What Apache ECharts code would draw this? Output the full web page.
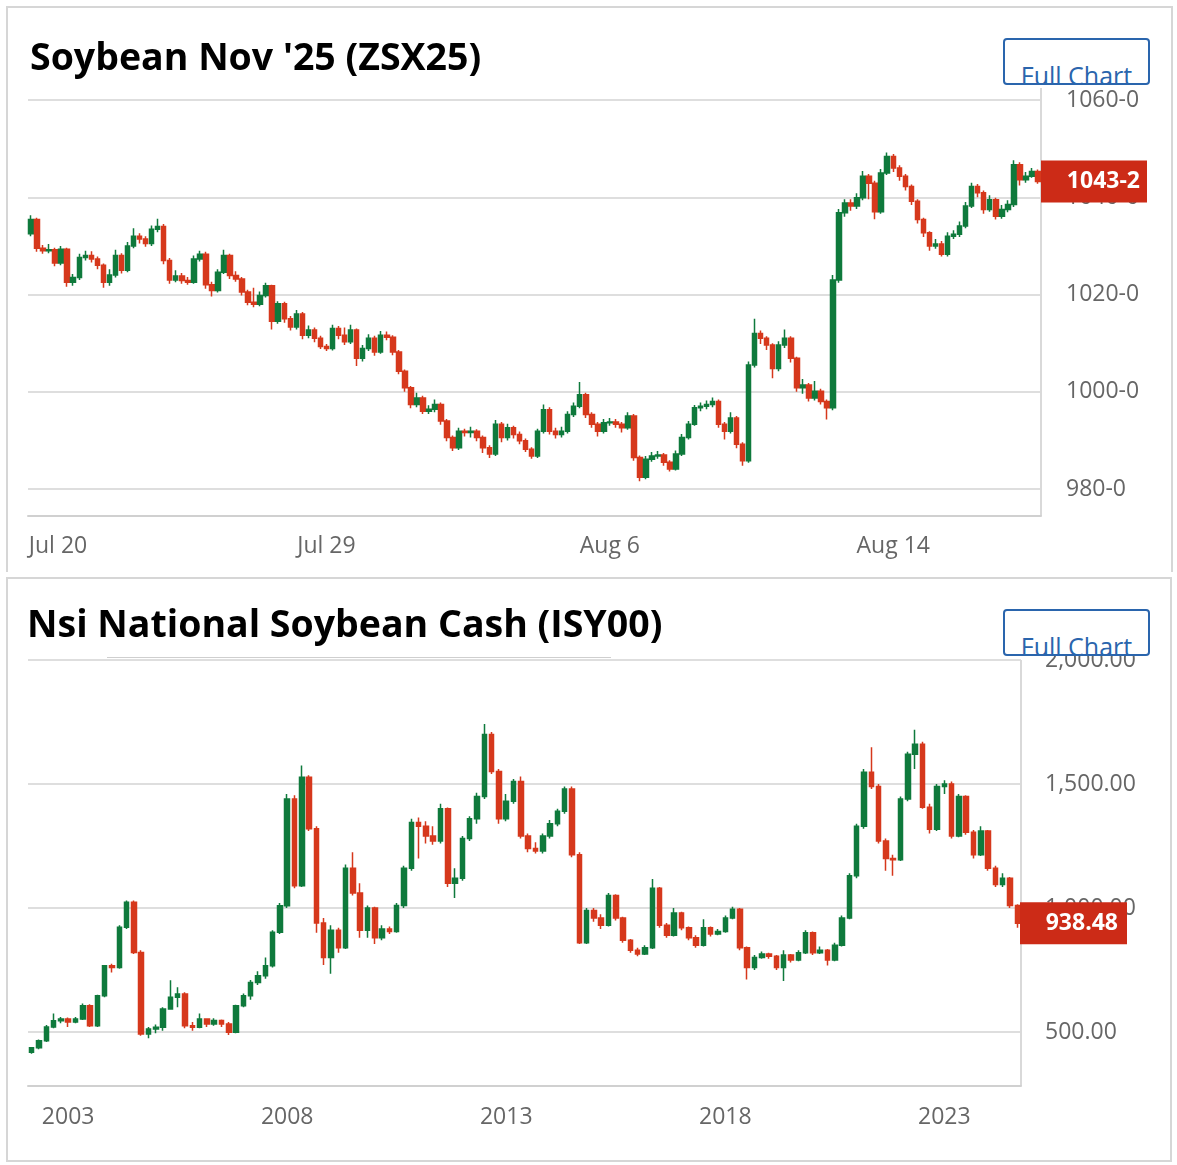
<!DOCTYPE html>
<html>
<head>
<meta charset="utf-8">
<title>Soybean charts</title>
<script src="https://cdn.jsdelivr.net/npm/echarts@6/dist/echarts.min.js"></script>
<style>
  html, body { margin: 0; padding: 0; background: #fff; }
  body { width: 1177px; height: 1165px; position: relative; overflow: hidden; font-family: 'Open Sans', 'Noto Sans', sans-serif; }
  .panel { position: absolute; box-sizing: border-box; border: 2px solid #d6d6d6; z-index: 0; }
  .title { position: absolute; z-index: 2; font-size: 37.5px; line-height: 38px; font-weight: 700; color: #000; white-space: nowrap; }
  .btn { position: absolute; z-index: 2; box-sizing: border-box; width: 147px; height: 47px; border: 2px solid #2a65ad; border-radius: 4px; background: #fff; overflow: hidden; }
  .btn span { position: absolute; left: 0; right: 0; top: 23px; text-align: center; font-size: 25px; line-height: 25px; color: #2a65ad; white-space: nowrap; }
  .rule { position: absolute; z-index: 2; height: 1px; background: #cfcfcf; }
  #chart { position: absolute; left: 0; top: 0; width: 1177px; height: 1165px; z-index: 1; }
</style>
</head>
<body>
<div class="panel" style="left:6px;top:6px;width:1167px;height:566px;border-bottom:none;"></div>
<div class="panel" style="left:6px;top:577px;width:1166px;height:585px;"></div>

<div id="chart"></div>

<div class="title" style="left:30px;top:37px;">Soybean Nov '25 (ZSX25)</div>
<div class="btn" style="left:1003px;top:38px;"><span>Full Chart</span></div>

<div class="title" style="left:27px;top:604px;">Nsi National Soybean Cash (ISY00)</div>
<div class="btn" style="left:1003px;top:609px;"><span>Full Chart</span></div>
<div class="rule" style="left:107px;top:657px;width:504px;"></div>

<script>
// ---- Soybean Nov '25 (ZSX25), intraday bars ----
const topLabels = ['Jul 20', 'Jul 29', 'Aug 6', 'Aug 14'];
const topLabelIdx = [0, 49, 96, 143];
const topFirstOpen = 1032.5;
const topLastText = '1043-2';
const topLast = 1043.25;
const topClose = [
  1035.4, 1029.5, 1029.0, 1029.2, 1026.5, 1029.3, 1022.5, 1023.5, 1027.6, 1028.0,
  1027.3, 1026.0, 1022.5, 1024.0, 1028.0, 1025.0, 1030.0, 1032.0, 1031.4, 1030.5,
  1033.4, 1034.0, 1027.0, 1023.0, 1023.8, 1022.9, 1022.5, 1027.3, 1028.3, 1022.0,
  1020.8, 1024.6, 1028.0, 1023.9, 1023.2, 1020.5, 1018.4, 1018.0, 1019.8, 1021.8,
  1014.5, 1018.1, 1015.0, 1013.3, 1016.0, 1011.6, 1012.7, 1011.0, 1009.3, 1008.9,
  1013.0, 1011.6, 1010.3, 1012.7, 1006.9, 1008.9, 1011.0, 1008.2, 1011.6, 1011.2,
  1008.2, 1004.2, 1000.8, 997.4, 998.7, 996.0, 996.4, 997.4, 994.0, 990.6,
  988.5, 991.9, 991.6, 991.9, 990.6, 988.5, 987.2, 993.3, 990.6, 992.6,
  991.2, 989.9, 988.2, 986.8, 991.9, 996.3, 991.9, 991.2, 991.9, 995.3,
  997.0, 999.4, 995.3, 993.3, 991.9, 993.6, 993.8, 993.3, 992.6, 995.0,
  986.5, 982.4, 986.1, 986.8, 987.0, 985.5, 984.1, 987.2, 990.6, 993.3,
  996.7, 997.0, 997.4, 998.0, 993.3, 991.9, 994.6, 989.2, 985.8, 1005.5,
  1012.0, 1011.0, 1009.6, 1004.8, 1009.6, 1011.0, 1006.9, 1000.8, 1001.4, 998.7,
  1000.1, 998.0, 996.7, 1023.0, 1036.8, 1038.8, 1038.2, 1039.9, 1044.3, 1042.9,
  1037.0, 1045.0, 1048.4, 1046.0, 1044.3, 1042.2, 1039.2, 1035.4, 1032.7, 1030.0,
  1030.4, 1028.3, 1032.0, 1032.4, 1034.1, 1038.2, 1042.2, 1040.9, 1037.5, 1039.5,
  1036.1, 1037.5, 1038.5, 1046.7, 1043.6, 1044.3, 1045.3, 1043.25
];
const topHigh = [
  1036.3, 1035.8, 1030.2, 1030.4, 1029.6, 1030.0, 1029.6, 1024.2, 1028.4, 1029.0,
  1028.9, 1027.8, 1026.4, 1025.2, 1029.2, 1028.5, 1030.8, 1033.6, 1032.6, 1032.0,
  1034.2, 1035.6, 1034.5, 1027.5, 1025.0, 1024.4, 1023.6, 1028.0, 1029.0, 1028.8,
  1022.6, 1025.2, 1029.2, 1028.4, 1024.8, 1023.6, 1021.0, 1021.4, 1020.6, 1022.4,
  1022.0, 1018.6, 1018.5, 1015.6, 1016.8, 1016.4, 1013.6, 1013.2, 1011.5, 1009.8,
  1013.8, 1013.5, 1013.2, 1013.8, 1013.0, 1009.6, 1011.8, 1011.5, 1012.5, 1012.4,
  1011.6, 1008.6, 1004.6, 1001.2, 999.8, 999.2, 997.2, 998.4, 997.8, 994.4,
  991.0, 992.6, 992.4, 992.8, 992.3, 991.0, 989.0, 994.2, 993.8, 993.4,
  993.0, 991.8, 990.4, 988.6, 992.4, 997.4, 996.8, 992.6, 992.8, 996.0,
  997.8, 1002.0, 999.8, 995.8, 993.8, 994.4, 994.6, 994.4, 993.8, 995.8,
  995.4, 986.9, 986.8, 987.6, 987.8, 987.4, 985.9, 987.9, 991.3, 994.0,
  997.3, 997.8, 998.2, 998.8, 998.4, 993.8, 995.8, 995.0, 989.6, 1006.2,
  1015.0, 1012.6, 1011.4, 1010.0, 1010.4, 1012.8, 1011.4, 1007.2, 1002.6, 1001.8,
  1002.2, 1000.6, 998.4, 1024.0, 1037.6, 1039.6, 1039.6, 1040.8, 1045.4, 1044.8,
  1043.4, 1045.8, 1049.2, 1048.9, 1046.6, 1044.8, 1042.6, 1039.6, 1035.8, 1033.0,
  1031.4, 1031.0, 1032.8, 1033.2, 1035.0, 1039.0, 1043.0, 1042.7, 1041.4, 1040.4,
  1039.9, 1038.4, 1039.4, 1047.6, 1047.2, 1045.2, 1046.0, 1045.7
];
const topLow = [
  1032.0, 1028.8, 1028.4, 1028.5, 1025.8, 1026.0, 1021.6, 1021.8, 1023.0, 1027.0,
  1026.6, 1025.2, 1021.4, 1021.8, 1023.5, 1024.3, 1024.6, 1029.5, 1030.5, 1029.8,
  1030.0, 1032.8, 1026.2, 1022.2, 1022.5, 1022.2, 1022.0, 1022.2, 1026.8, 1021.2,
  1019.6, 1020.4, 1024.2, 1023.2, 1022.6, 1019.8, 1017.8, 1017.4, 1017.6, 1019.4,
  1012.8, 1014.0, 1014.2, 1012.6, 1012.8, 1010.8, 1011.0, 1010.2, 1008.8, 1008.4,
  1008.5, 1010.8, 1009.6, 1009.8, 1005.3, 1006.2, 1008.4, 1007.4, 1007.8, 1010.6,
  1007.5, 1003.6, 1000.0, 996.6, 996.8, 995.4, 995.4, 995.8, 993.2, 989.8,
  987.8, 988.0, 990.8, 990.6, 989.8, 987.4, 986.4, 986.8, 989.6, 990.0,
  990.4, 989.2, 987.6, 986.2, 986.4, 991.4, 991.2, 990.4, 990.6, 991.4,
  994.8, 996.6, 994.6, 992.6, 990.8, 991.4, 993.0, 992.6, 991.6, 992.2,
  985.8, 981.6, 982.0, 985.6, 986.2, 984.8, 983.6, 983.8, 986.8, 990.2,
  993.0, 996.0, 996.4, 996.8, 992.6, 990.2, 991.4, 988.4, 984.8, 985.4,
  1005.0, 1009.8, 1008.6, 1002.8, 1004.2, 1009.0, 1006.0, 1000.0, 999.6, 998.0,
  998.2, 997.4, 994.3, 996.2, 1022.4, 1036.0, 1037.2, 1037.6, 1039.4, 1039.6,
  1035.5, 1036.6, 1044.6, 1045.2, 1043.4, 1041.4, 1038.4, 1034.6, 1031.8, 1029.0,
  1029.4, 1027.8, 1027.8, 1031.4, 1031.8, 1033.6, 1037.8, 1040.0, 1036.6, 1037.0,
  1035.4, 1035.6, 1036.9, 1038.0, 1042.4, 1043.0, 1044.0, 1042.8
];

// ---- Nsi National Soybean Cash (ISY00), one bar per two months from early 2002 ----
const cashYears = ['2003', '2008', '2013', '2018', '2023'];
const cashYearIdx = [5, 35, 65, 95, 125];
const cashFirstOpen = 418;
const cashLastText = '938.48';
const cashLast = 938.48;
const cashClose = [
  436, 465, 520, 545, 552, 540, 552, 606, 525, 646,
  767, 760, 922, 1023, 821, 492, 512, 519, 593, 640,
  653, 525, 519, 552, 532, 546, 532, 499, 606, 646,
  700, 727, 767, 902, 1009, 1440, 1090, 1527, 1320, 940,
  800, 910, 840, 1160, 1060, 910, 1000, 880, 915, 905,
  1010, 1160, 1345, 1330, 1290, 1270, 1400, 1100, 1120, 1280,
  1360, 1450, 1700, 1550, 1360, 1430, 1510, 1290, 1240, 1230,
  1290, 1340, 1390, 1480, 1215, 860, 990, 960, 930, 1050,
  960, 870, 830, 815, 840, 1080, 930, 890, 980, 920,
  880, 850, 920, 895, 905, 960, 995, 840, 760, 800,
  815, 805, 760, 810, 790, 820, 900, 820, 830, 790,
  850, 960, 1130, 1330, 1547, 1490, 1270, 1200, 1195, 1440,
  1620, 1660, 1406, 1318, 1490, 1500, 1290, 1450, 1305, 1215,
  1310, 1160, 1095, 1120, 1010, 938.48
];
const cashHigh = [
  440, 470, 528, 575, 560, 558, 560, 615, 612, 650,
  770, 775, 930, 1030, 1030, 830, 520, 530, 600, 709,
  680, 660, 540, 575, 555, 555, 550, 540, 610, 655,
  710, 745, 800, 910, 1020, 1460, 1455, 1575, 1535, 1330,
  960, 930, 920, 1175, 1225, 1100, 1010, 1005, 930, 925,
  1020, 1170, 1360, 1365, 1350, 1330, 1420, 1405, 1160, 1290,
  1370, 1465, 1742, 1710, 1560, 1460, 1520, 1530, 1300, 1265,
  1300, 1355, 1400, 1490, 1490, 1225, 1000, 1000, 975, 1060,
  1055, 965, 875, 840, 850, 1117, 1085, 940, 1000, 985,
  925, 890, 955, 925, 915, 970, 1005, 1000, 845, 810,
  825, 820, 810, 830, 815, 830, 910, 905, 845, 835,
  860, 970, 1140, 1340, 1560, 1648, 1500, 1280, 1215, 1450,
  1630, 1719, 1670, 1420, 1500, 1515, 1510, 1460, 1455, 1315,
  1330, 1315, 1170, 1140, 1125, 1015
];
const cashLow = [
  412, 430, 460, 515, 535, 520, 535, 548, 520, 520,
  640, 740, 755, 915, 815, 485, 475, 495, 505, 590,
  600, 515, 505, 515, 520, 525, 520, 488, 495, 600,
  630, 690, 715, 760, 895, 1000, 1080, 1085, 1310, 900,
  770, 735, 820, 835, 1050, 880, 880, 855, 870, 895,
  900, 1000, 1150, 1200, 1260, 1255, 1260, 1085, 1040, 1110,
  1270, 1340, 1440, 1540, 1340, 1350, 1420, 1280, 1225, 1220,
  1220, 1280, 1330, 1380, 1205, 855, 855, 945, 915, 925,
  950, 860, 820, 805, 810, 835, 920, 880, 885, 910,
  870, 840, 845, 885, 890, 900, 955, 830, 712, 750,
  795, 795, 750, 706, 780, 785, 815, 810, 815, 768,
  785, 845, 955, 1120, 1320, 1480, 1260, 1150, 1130, 1190,
  1430, 1560, 1400, 1300, 1310, 1460, 1280, 1285, 1295, 1200,
  1210, 1150, 1085, 1085, 1000, 920
];

const UP = '#0f7a3c';
const DOWN = '#d6381c';
const TAG = '#cc2b17';
const FONT = "'Open Sans', 'Noto Sans', sans-serif";

// open of each bar is the previous bar's close; echarts wants [open, close, low, high]
function toOhlc(firstOpen, close, low, high) {
  return close.map((c, i) => [i === 0 ? firstOpen : close[i - 1], c, low[i], high[i]]);
}

const topData = toOhlc(topFirstOpen, topClose, topLow, topHigh);
const cashData = toOhlc(cashFirstOpen, cashClose, cashLow, cashHigh);

const axisText = { color: '#666', fontSize: 23, fontFamily: FONT };

const chart = echarts.init(document.getElementById('chart'), null, { renderer: 'canvas' });

chart.setOption({
  animation: false,
  grid: [
    { left: 28, top: 100, width: 1013, height: 389 },
    { left: 28, top: 660, width: 993, height: 372 }
  ],
  xAxis: [
    {
      type: 'category',
      gridIndex: 0,
      data: topClose.map((v, i) => i),
      boundaryGap: true,
      offset: 27,
      axisLine: { lineStyle: { color: '#d0d0d0', width: 2 } },
      axisTick: {
        alignWithLabel: true,
        length: 8,
        lineStyle: { color: '#d0d0d0', width: 2 },
        interval: (i) => i !== 0 && topLabelIdx.indexOf(i) >= 0
      },
      axisLabel: {
        ...axisText,
        margin: 19,
        interval: (i) => topLabelIdx.indexOf(i) >= 0,
        formatter: (v, i) => {
          const k = topLabelIdx.indexOf(i);
          if (k < 0) return '';
          return k === 0 ? '{first|' + topLabels[0] + '}' : topLabels[k];
        },
        rich: { first: { ...axisText, padding: [0, 0, 0, 54] } }
      },
      splitLine: { show: false }
    },
    {
      type: 'category',
      gridIndex: 1,
      data: cashClose.map((v, i) => i),
      boundaryGap: true,
      offset: 54,
      axisLine: { lineStyle: { color: '#d0d0d0', width: 2 } },
      axisTick: {
        alignWithLabel: true,
        length: 8,
        lineStyle: { color: '#d0d0d0', width: 2 },
        interval: (i) => cashYearIdx.indexOf(i) >= 0
      },
      axisLabel: {
        ...axisText,
        margin: 20,
        interval: (i) => cashYearIdx.indexOf(i) >= 0,
        formatter: (v, i) => {
          const k = cashYearIdx.indexOf(i);
          return k < 0 ? '' : cashYears[k];
        }
      },
      splitLine: { show: false }
    }
  ],
  yAxis: [
    {
      type: 'value',
      gridIndex: 0,
      position: 'right',
      min: 980,
      max: 1060,
      interval: 20,
      axisLine: { show: false },
      axisTick: { show: false },
      axisLabel: { ...axisText, margin: 25, formatter: (v) => v + '-0' },
      splitLine: { lineStyle: { color: '#dedede', width: 2 } }
    },
    {
      type: 'value',
      gridIndex: 1,
      position: 'right',
      min: 500,
      max: 2000,
      interval: 500,
      axisLine: { show: false },
      axisTick: { show: false },
      axisLabel: {
        ...axisText,
        margin: 24,
        formatter: (v) => v.toLocaleString('en-US', { minimumFractionDigits: 2, maximumFractionDigits: 2 })
      },
      splitLine: { lineStyle: { color: '#dedede', width: 2 } }
    }
  ],
  series: [
    {
      name: 'ZSX25',
      type: 'candlestick',
      xAxisIndex: 0,
      yAxisIndex: 0,
      data: topData,
      barWidth: 5,
      clip: false,
      itemStyle: { color: UP, color0: DOWN, borderColor: UP, borderColor0: DOWN, borderWidth: 1.5 }
    },
    {
      name: 'ISY00',
      type: 'candlestick',
      xAxisIndex: 1,
      yAxisIndex: 1,
      data: cashData,
      barWidth: 5,
      clip: false,
      itemStyle: { color: UP, color0: DOWN, borderColor: UP, borderColor0: DOWN, borderWidth: 1.5 }
    }
  ]
});

// right-hand axis rules and last-price tags, placed through the axis scales
function priceTag(axisIndex, value, text, x, w, padRight) {
  const y = chart.convertToPixel({ yAxisIndex: axisIndex }, value);
  return [
    {
      type: 'rect', silent: true, zlevel: 5, z: 100,
      shape: { x: x, y: y - 21, width: w, height: 42 },
      style: { fill: TAG }
    },
    {
      type: 'text', silent: true, zlevel: 5, z: 101,
      x: x + w - padRight,
      y: y,
      style: {
        text: text, fill: '#fff', fontSize: 23, fontWeight: 'bold', fontFamily: FONT,
        align: 'right', verticalAlign: 'middle'
      }
    }
  ];
}

chart.setOption({
  graphic: [
    { type: 'line', silent: true, shape: { x1: 1041, y1: 88, x2: 1041, y2: 516 }, style: { stroke: '#d9d9d9', lineWidth: 2 } },
    { type: 'line', silent: true, shape: { x1: 1021, y1: 660, x2: 1021, y2: 1086 }, style: { stroke: '#d9d9d9', lineWidth: 2 } },
    ...priceTag(0, topLast, topLastText, 1041, 106, 7),
    ...priceTag(1, cashLast, cashLastText, 1020, 107, 9)
  ]
});
</script>
</body>
</html>
